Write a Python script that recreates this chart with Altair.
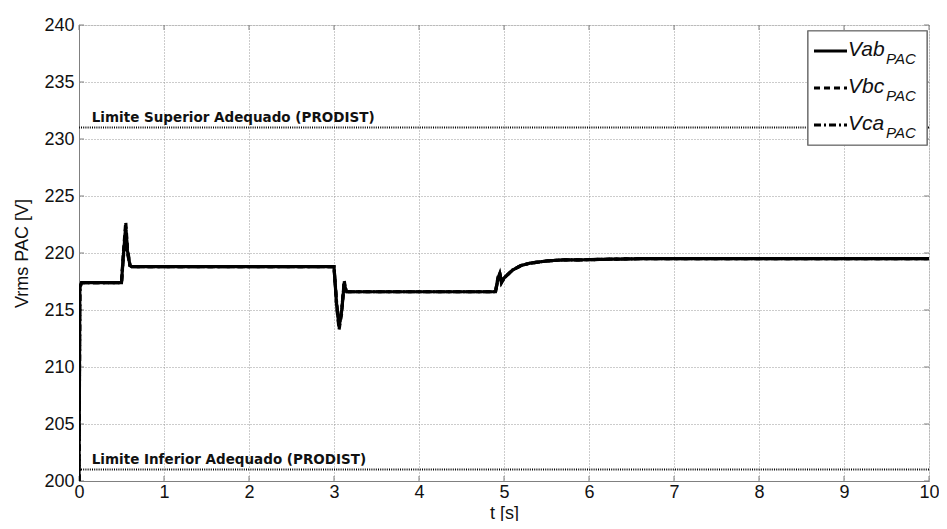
import altair as alt
import pandas as pd

# ---- data ----
t = [0, 0.01, 0.03, 0.5, 0.52, 0.55, 0.57, 0.6, 0.62, 3.0, 3.03, 3.06, 3.09,
     3.12, 3.13, 3.15, 4.9, 4.93, 4.95, 4.97, 5.0, 5.1, 5.2, 5.3, 5.4, 5.5,
     5.7, 5.9, 6.2, 6.6, 7.0, 10]
vab = [200, 217.0, 217.4, 217.4, 219.6, 222.3, 220.2, 218.9, 218.8, 218.8,
       215.6, 213.5, 214.9, 217.3, 217.0, 216.6, 216.6, 217.8, 218.2, 217.4,
       217.8, 218.5, 218.9, 219.1, 219.2, 219.3, 219.4, 219.4, 219.45, 219.5,
       219.5, 219.5]
vbc = [200, 217.1, 217.4, 217.4, 219.8, 222.7, 220.4, 218.9, 218.8, 218.8,
       215.4, 213.3, 214.7, 217.6, 217.1, 216.6, 216.6, 217.9, 218.3, 217.4,
       217.8, 218.5, 218.9, 219.1, 219.2, 219.3, 219.4, 219.4, 219.45, 219.5,
       219.5, 219.5]
vca = [200, 216.9, 217.4, 217.4, 219.4, 222.0, 220.0, 218.9, 218.8, 218.8,
       215.7, 213.6, 215.0, 217.4, 217.0, 216.6, 216.6, 217.7, 218.1, 217.4,
       217.8, 218.5, 218.9, 219.1, 219.2, 219.3, 219.4, 219.4, 219.45, 219.5,
       219.5, 219.5]
series_names = ["Vab", "Vbc", "Vca"]
limits = [231, 201]
limit_labels = ["Limite Superior Adequado (PRODIST)",
                "Limite Inferior Adequado (PRODIST)"]
x_ticks = [0, 1, 2, 3, 4, 5, 6, 7, 8, 9, 10]
y_ticks = [200, 205, 210, 215, 220, 225, 230, 235, 240]

FONT = "Liberation Sans"
W, H = 850, 456

rows = []
for name, vals in zip(series_names, [vab, vbc, vca]):
    for ti, vi in zip(t, vals):
        rows.append({"t": ti, "v": vi, "s": name})
df = pd.DataFrame(rows)

xs = alt.Scale(domain=[0, 10], nice=False, zero=False)
ys = alt.Scale(domain=[200, 240], nice=False, zero=False)

X = alt.X("t:Q", scale=xs, title="t [s]",
          axis=alt.Axis(values=x_ticks, format="d", grid=True, gridDash=[1, 2],
                        gridColor="#999999", ticks=False, domainColor="#808080",
                        labelFontSize=18, labelFont=FONT, labelColor="#111111",
                        labelPadding=2, titleFontSize=18, titleFont=FONT,
                        titleFontWeight="normal", titleColor="#111111",
                        titlePadding=3, labelFlush=False))
Y = alt.Y("v:Q", scale=ys, title="Vrms PAC [V]",
          axis=alt.Axis(values=y_ticks, format="d", grid=True, gridDash=[1, 2],
                        gridColor="#999999", ticks=False, domainColor="#808080",
                        labelFontSize=18, labelFont=FONT, labelColor="#111111",
                        labelPadding=5, titleFontSize=18, titleFont=FONT,
                        titleFontWeight="normal", titleColor="#111111",
                        titlePadding=12, labelFlush=False))

base = alt.Chart(df)

def series_line(name, dash):
    return base.transform_filter(alt.datum.s == name).mark_line(
        color="black", strokeWidth=3.2, strokeDash=dash, clip=True
    ).encode(x=X, y=Y, order="t:Q")

lines = (series_line("Vca", [7, 3, 2, 3]) + series_line("Vbc", [6, 4])
         + series_line("Vab", [1, 0]))

lim_df = pd.DataFrame({"v": limits, "label": limit_labels, "t": [0.15, 0.15]})
lim_rule = alt.Chart(lim_df).mark_rule(
    color="black", strokeWidth=2, strokeDash=[1, 1.2]
).encode(y=alt.Y("v:Q", scale=ys))
lim_text = alt.Chart(lim_df).mark_text(
    align="left", baseline="bottom", dy=-3, font="DejaVu Sans",
    fontWeight="bold", fontSize=13.5, color="#111111"
).encode(x=alt.X("t:Q", scale=xs), y=alt.Y("v:Q", scale=ys), text="label:N")

# inner ticks (Matlab style) on all four sides
xt = pd.DataFrame({"t": x_ticks})
yt = pd.DataFrame({"v": y_ticks})
tick_style = dict(color="#808080", strokeWidth=1)
xt_bot = alt.Chart(xt).mark_rule(**tick_style).encode(
    x=alt.X("t:Q", scale=xs), y=alt.value(H), y2=alt.value(H - 5))
xt_top = alt.Chart(xt).mark_rule(**tick_style).encode(
    x=alt.X("t:Q", scale=xs), y=alt.value(0), y2=alt.value(5))
yt_left = alt.Chart(yt).mark_rule(**tick_style).encode(
    y=alt.Y("v:Q", scale=ys), x=alt.value(0), x2=alt.value(5))
yt_right = alt.Chart(yt).mark_rule(**tick_style).encode(
    y=alt.Y("v:Q", scale=ys), x=alt.value(W), x2=alt.value(W - 5))

# legend (drawn manually to get subscripts)
leg_df = pd.DataFrame({"name": series_names})
leg_box = alt.Chart(leg_df).mark_rect(
    fill="white", stroke="#707070", strokeWidth=1.2
).encode(x=alt.value(729), x2=alt.value(848), y=alt.value(6), y2=alt.value(120))

leg_parts = []
row_y = [26, 63, 100]
dashes = [[1, 0], [6, 4], [7, 3, 2, 3]]
for name, ry, dash in zip(series_names, row_y, dashes):
    one = alt.Chart(leg_df).transform_filter(alt.datum.name == name)
    leg_parts.append(one.mark_rule(color="black", strokeWidth=3,
                                   strokeDash=dash).encode(
        x=alt.value(735), x2=alt.value(768), y=alt.value(ry)))
    leg_parts.append(one.mark_text(
        align="left", baseline="alphabetic", font=FONT, fontStyle="italic",
        fontSize=21, color="#111111").encode(
        x=alt.value(769), y=alt.value(ry + 5), text="name:N"))
    leg_parts.append(one.mark_text(
        align="left", baseline="alphabetic", font=FONT, fontStyle="italic",
        fontSize=15, color="#111111", text="PAC").encode(
        x=alt.value(807), y=alt.value(ry + 13)))

chart = alt.layer(
    lim_rule, xt_bot, xt_top, yt_left, yt_right, lines, lim_text,
    leg_box, *leg_parts
).properties(
    width=W, height=H, autosize="none",
    padding={"left": 71, "top": 17, "right": 10, "bottom": 40}
).configure_view(stroke="#808080", strokeWidth=1).configure(
    background="white")

chart.save("out.html", embed_options={"renderer": "svg", "actions": False})
